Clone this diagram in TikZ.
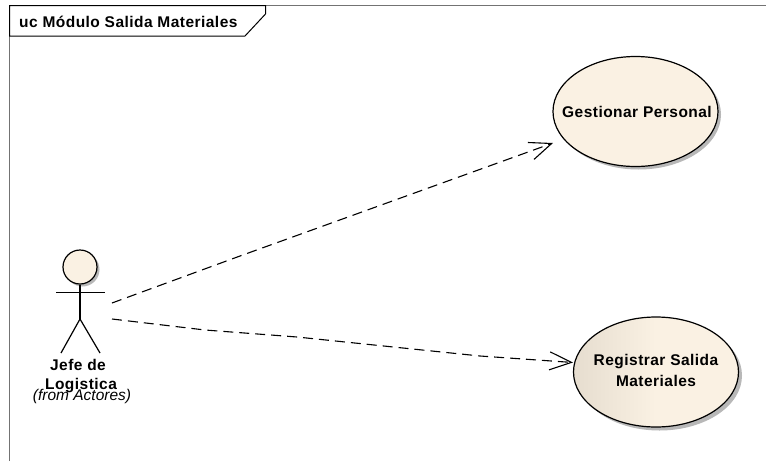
\documentclass[tikz,border=0pt]{standalone}
\usepackage{fontspec}
\setmainfont{Liberation Sans}
\newfontface\ucbold[LetterSpace=3]{Liberation Sans Bold}
\usetikzlibrary{shapes.geometric,arrows.meta}
\definecolor{ucfill}{HTML}{FAF1E3}
\definecolor{ucdark}{HTML}{E6DDCF}
\tikzset{
 x=1pt,y=-1pt,
 usecase/.style={ellipse,draw=black,line width=1.2pt,minimum width=165pt,minimum height=110pt,inner sep=0pt,align=center,font=\fontsize{15.5}{21}\ucbold},
 castshadow/.style={ellipse,fill=black!28,draw=none,minimum width=165pt,minimum height=110pt,inner sep=0pt},
 dep/.style={dash pattern=on 10pt off 6pt,line width=1.1pt,-{Straight Barb[length=22pt,width=18pt,line width=1.1pt]}},
 limb/.style={line width=1.2pt,black},
 frameline/.style={line width=1.8pt,draw=black!55},
 labelline/.style={line width=1pt,draw=black,fill=white},
 ucbolds/.style={font=\fontsize{15.5}{18}\ucbold,inner sep=0pt},
 fromtext/.style={font=\fontsize{15.5}{17}\selectfont\itshape,inner sep=0pt}
}
\begin{document}
\begin{tikzpicture}
\useasboundingbox (0,0) rectangle (766,461);
\fill[white] (0,0) rectangle (766,461);
% frame
\draw[frameline] (9.5,461) -- (9.5,5.5) -- (766,5.5);
\draw[labelline] (9.5,5.5) -- (265.5,5.5) -- (265.5,14) -- (245,36) -- (9.5,36) -- cycle;
\node[ucbolds,anchor=west] (title) at (19,21.5) {uc Módulo Salida Materiales};
% use cases
\node[castshadow] at (638.5,114.5) {};
\node[usecase,fill=ucfill] (gp) at (635.5,111.5) {\makebox[0pt]{\hspace{3pt}\raisebox{-1.5pt}{Gestionar Personal}}};
\node[castshadow] at (659.5,375.5) {};
\node[usecase,left color=ucdark,right color=ucfill,middle color=ucfill] (rs) at (656,372) {\makebox[0pt]{\raisebox{-4pt}{\begin{tabular}{@{}c@{}}Registrar Salida\\Materiales\end{tabular}}}};
% actor
\fill[black!28] (82.5,269.5) circle (17);
\node[circle,draw=black,line width=1.2pt,fill=ucfill,minimum size=34pt,inner sep=0pt] (head) at (80,267) {};
\coordinate (hip) at (80,319);
\coordinate (armL) at (56,292.5);
\coordinate (armR) at (105,292.5);
\coordinate (legL) at (61,353);
\coordinate (legR) at (100,353);
\draw[limb] (head.south) -- (hip);
\draw[limb] (armL) -- (armR);
\draw[limb] (legL) -- (hip) -- (legR);
\node[ucbolds] (a1) at (78,365) {Jefe de};
\node[ucbolds] (a2) at (81,386) {Logistica};
\node[fromtext] (a3) at (82,396.5) {(from Actores)};
% connectors
\coordinate (s1) at (112,303);
\coordinate (m1) at (240,256);
\coordinate (e1) at (553,143);
\coordinate (s2) at (112,319);
\coordinate (m2) at (205,330);
\coordinate (m3) at (297,337);
\coordinate (m4) at (480,356);
\coordinate (e2) at (573,362.5);
\draw[dep] (s1) -- (m1) -- (e1);
\draw[dep] (s2) -- (m2) -- (m3) -- (m4) -- (e2);
\end{tikzpicture}
\end{document}
